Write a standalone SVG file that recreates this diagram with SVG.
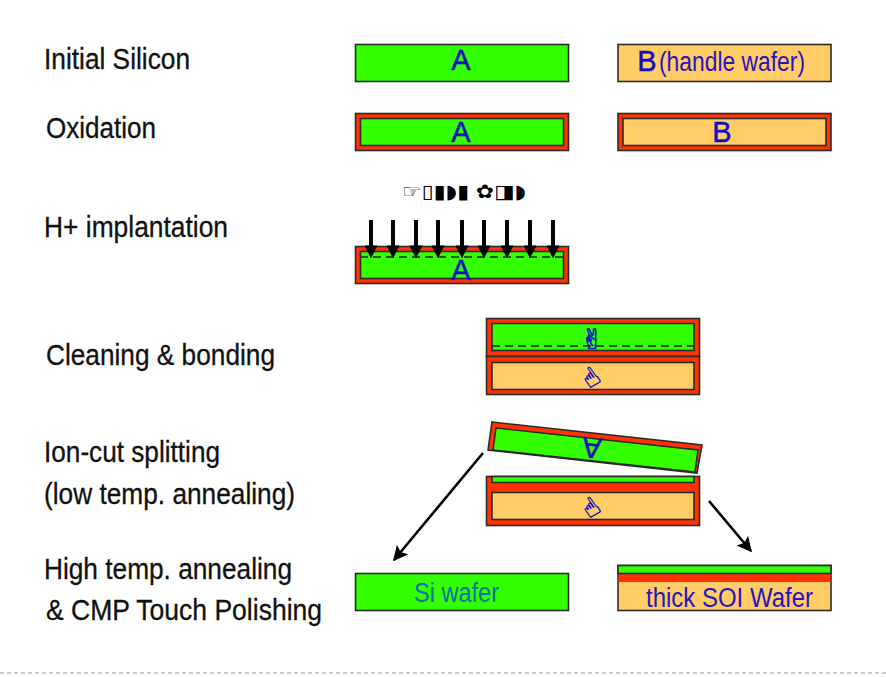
<svg xmlns="http://www.w3.org/2000/svg" width="886" height="677" viewBox="0 0 886 677">
<style>
.bd{stroke:#2b2b2b;stroke-width:1.6}
.g{fill:#33ff00}.o{fill:#ffcc66}.r{fill:#ff3300}
.lb{font-family:"Liberation Sans",Arial,sans-serif;font-size:29px;fill:#111;stroke:#111;stroke-width:.3}
.w{font-family:"Liberation Sans",Arial,sans-serif;font-size:29px;fill:#1010c0;stroke:#1010c0;stroke-width:.5;text-anchor:middle}
.s{font-family:"Liberation Sans",Arial,sans-serif;font-size:27px;fill:#2a14c0}
.sym{font-family:"DejaVu Sans",sans-serif;fill:#1010c0;stroke:#1010c0;stroke-width:.6;text-anchor:middle}
.a{stroke:#000;stroke-width:4;fill:none}
.a2{stroke:#000;stroke-width:2.6;fill:none}
.d{stroke:#222;stroke-width:1.4;stroke-dasharray:8 5;fill:none}
</style>
<defs>
<marker id="ah" markerWidth="13" markerHeight="13" refX="2" refY="5" orient="auto" markerUnits="userSpaceOnUse" viewBox="0 0 10 10"><path d="M0,0L10,5L0,10z" fill="#000"/></marker>
<marker id="ai" markerWidth="15" markerHeight="15" refX="9" refY="5" orient="auto" markerUnits="userSpaceOnUse" viewBox="0 0 10 10"><path d="M0,0L10,5L0,10L2,5z" fill="#000"/></marker>
</defs>
<rect width="886" height="677" fill="#fff"/>
<g id="labels">
<text class="lb" x="44" y="69" textLength="146" lengthAdjust="spacingAndGlyphs">Initial Silicon</text>
<text class="lb" x="46" y="138" textLength="110" lengthAdjust="spacingAndGlyphs">Oxidation</text>
<text class="lb" x="44" y="237" textLength="184" lengthAdjust="spacingAndGlyphs">H+ implantation</text>
<text class="lb" x="46" y="365" textLength="229" lengthAdjust="spacingAndGlyphs">Cleaning &amp; bonding</text>
<text class="lb" x="44" y="462" textLength="176" lengthAdjust="spacingAndGlyphs">Ion-cut splitting</text>
<text class="lb" x="44" y="504" textLength="251" lengthAdjust="spacingAndGlyphs">(low temp. annealing)</text>
<text class="lb" x="44" y="579" textLength="248" lengthAdjust="spacingAndGlyphs">High temp. annealing</text>
<text class="lb" x="46" y="620" textLength="276" lengthAdjust="spacingAndGlyphs">&amp; CMP Touch Polishing</text>
</g>
<g id="a-initial"><rect class="g bd" x="355.500" y="44.500" width="213" height="37"/><text class="w" x="461" y="70">A</text></g>
<g id="b-initial"><rect class="o bd" x="618" y="44.500" width="213" height="37"/><text class="w" x="647" y="71">B</text><text class="s" x="659" y="71" textLength="146" lengthAdjust="spacingAndGlyphs">(handle wafer)</text></g>
<g id="a-oxidized"><rect class="r bd" x="355.500" y="113.500" width="213" height="37"/><rect class="g bd" x="360.500" y="118.500" width="203" height="27"/><text class="w" x="461" y="142">A</text></g>
<g id="b-oxidized"><rect class="r bd" x="618" y="113.500" width="213" height="37"/><rect class="o bd" x="623" y="118.500" width="203" height="27"/><text class="w" x="722" y="142">B</text></g>
<g id="implant-label"><text x="402" y="198" font-family="DejaVu Sans, sans-serif" font-size="19" fill="#000" textLength="124" lengthAdjust="spacingAndGlyphs">☞▯▮◗▮ ✿◨◗</text></g>
<g id="a-implant"><rect class="r bd" x="355.500" y="246.500" width="213" height="37"/><rect class="g bd" x="360.500" y="251.500" width="203" height="27"/><text class="w" x="461" y="280">A</text></g>
<g id="a-bonded"><rect class="r bd" x="486.500" y="318.500" width="213" height="38"/><rect class="g bd" x="492" y="323.500" width="202" height="27"/><text class="sym" x="592" y="349" font-size="28">✌</text></g>
<g id="b-bonded"><rect class="r bd" x="486.500" y="356.500" width="213" height="38"/><rect class="o bd" x="492" y="362.500" width="202" height="27"/><text class="sym" transform="translate(596,385) rotate(-35)" font-size="26">☝</text></g>
<g id="a-split"><polygon class="r bd" points="492,422 702,445 697,473 488,450"/><polygon class="g bd" points="496,428 698,450 695,472 493,450"/><text class="w" transform="translate(593,438) rotate(186)">A</text></g>
<g id="b-split"><rect class="r bd" x="486.500" y="476.500" width="213" height="49"/><rect class="g bd" x="492" y="476.500" width="202" height="6"/><rect class="o bd" x="492" y="492.500" width="202" height="27"/><text class="sym" transform="translate(596,515) rotate(-35)" font-size="26">☝</text></g>
<g id="si-wafer"><rect class="g bd" x="355.500" y="573.500" width="213" height="37"/><text x="414" y="602" font-family="Liberation Sans, Arial, sans-serif" font-size="27" fill="#0f6fa8" textLength="85" lengthAdjust="spacingAndGlyphs">Si wafer</text></g>
<g id="soi-wafer"><rect class="o bd" x="618" y="565.500" width="213" height="45"/><rect class="r" x="618.500" y="573" width="212" height="9"/><rect class="g bd" x="618" y="565.500" width="213" height="8"/><text x="646" y="607" font-family="Liberation Sans, Arial, sans-serif" font-size="27" fill="#2a14c0" textLength="167" lengthAdjust="spacingAndGlyphs">thick SOI Wafer</text></g>
<g id="connectors">
<path class="d" d="M360,257H564"/>
<path class="d" d="M492,346H694"/>
<path class="a" marker-end="url(#ah)" d="M371,220V248"/>
<path class="a" marker-end="url(#ah)" d="M393,220V248"/>
<path class="a" marker-end="url(#ah)" d="M416,220V248"/>
<path class="a" marker-end="url(#ah)" d="M438,220V248"/>
<path class="a" marker-end="url(#ah)" d="M462,220V248"/>
<path class="a" marker-end="url(#ah)" d="M484,220V248"/>
<path class="a" marker-end="url(#ah)" d="M507,220V248"/>
<path class="a" marker-end="url(#ah)" d="M530,220V248"/>
<path class="a" marker-end="url(#ah)" d="M553,220V248"/>
<path class="a2" marker-end="url(#ai)" d="M483,453L394,560"/>
<path class="a2" marker-end="url(#ai)" d="M709,501L751,551"/>
</g>
<path d="M0,673H886" stroke="#999" stroke-width="1" stroke-dasharray="4 3" fill="none"/>
</svg>
